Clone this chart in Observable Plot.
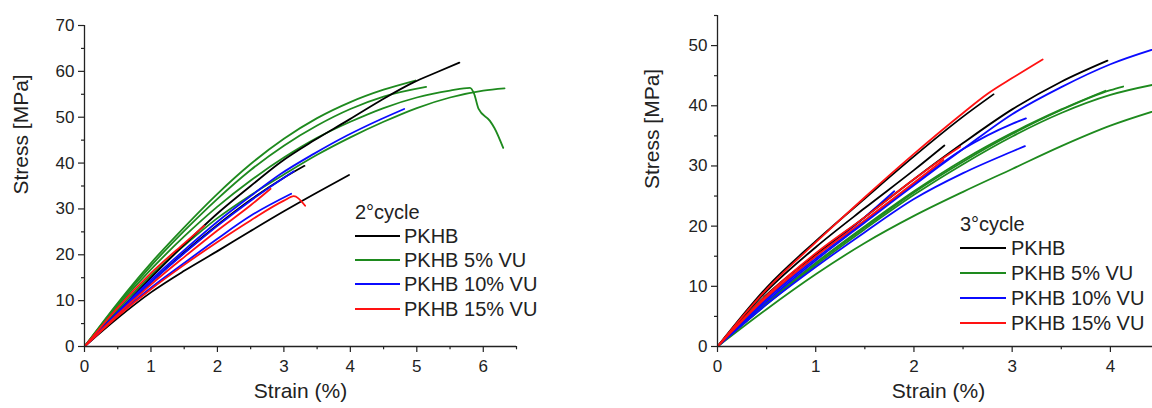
<!DOCTYPE html>
<html>
<head>
<meta charset="utf-8">
<script src="https://cdn.jsdelivr.net/npm/d3@7"></script>
<script src="https://cdn.jsdelivr.net/npm/@observablehq/plot@0.6"></script>
<style>
  html, body { margin: 0; padding: 0; background: #fff; overflow: hidden; }
  #wrap { position: relative; width: 1152px; height: 408px; overflow: hidden; font-family: "Liberation Sans", Arial, sans-serif; color: #222; }
  .panel { position: absolute; top: 0; }
  .legend { position: absolute; font-size: 20px; color: #222; }
  .legend .row { position: absolute; left: 0; height: 24px; line-height: 24px; display: flex; align-items: center; white-space: nowrap; }
  .legend .swatch { display: inline-block; height: 2.2px; margin-right: 5px; }
</style>
</head>
<body>
<div id="wrap"></div>
<script>
// ---------- series / categories ----------
const seriesNames = ["PKHB", "PKHB 5% VU", "PKHB 10% VU", "PKHB 15% VU"];
const seriesColors = ["#000000", "#1e8a1e", "#0b0bff", "#ff1212"];
const panelTitles = ["2°cycle", "3°cycle"];
const xLabel = "Strain (%)";
const yLabel = "Stress [MPa]";

// ---------- 2° cycle: strain (%) / stress (MPa) pairs ----------
const c2_pkhb_a = [[0,0],[0.5,7.5],[1,15],[1.5,22.2],[2,29],[2.5,35],[2.95,40.2],[3.45,44.9],[3.95,49.2],[4.45,53.6],[4.95,57.6],[5.3,59.8],[5.64,61.9]];
const c2_pkhb_b = [[0,0],[0.5,6.2],[1,11.8],[1.5,16.5],[2,20.8],[2.5,25.2],[3,29.5],[3.5,33.6],[3.98,37.4]];
const c2_pkhb_c = [[0,0],[0.5,7],[1,14],[1.5,20.5],[2,26.5],[2.5,32],[3,36.8],[3.31,39.4]];
const c2_5_a = [[0,0],[0.5,9.5],[1,18.2],[1.5,26],[2,33.3],[2.5,39.8],[3,45.3],[3.5,49.8],[4,53.3],[4.5,56],[4.98,58]];
const c2_5_b = [[0,0],[0.5,9.2],[1,17.6],[1.5,25.2],[2,32.2],[2.5,38.5],[3,43.8],[3.5,48.2],[4,51.8],[4.5,54.5],[5.14,56.6]];
const c2_5_c = [[0,0],[0.5,8.8],[1,16.8],[1.5,24],[2,30.5],[2.5,36.2],[3,41.2],[3.5,45.5],[4,49],[4.5,52],[5,54.3],[5.5,55.8],[5.8,56.4],[5.86,55.2],[5.93,51.8],[6.1,49.2],[6.17,47.6],[6.3,43.3]];
const c2_5_d = [[0,0],[0.5,8],[1,15.5],[1.5,22],[2,28],[2.5,33],[3,37.5],[3.5,41.8],[4,45.6],[4.5,49],[5,52],[5.5,54.3],[6,55.8],[6.32,56.3]];
const c2_10_a = [[0,0],[0.5,7.5],[1,14.5],[1.5,21],[2,27.2],[2.5,32.8],[2.95,37.6],[3.45,42],[3.95,46],[4.45,49.5],[4.81,51.8]];
const c2_10_b = [[0,0],[0.5,6.8],[1,12.8],[1.5,18.2],[2,23.5],[2.5,28.5],[3.11,33.3]];
const c2_10_c = [[0,0],[0.5,7.2],[1,14],[1.5,20.3],[2,26.3],[2.5,31.8],[3,36.8],[3.15,38.2]];
const c2_15_a = [[0,0],[0.5,8.5],[1,16],[1.5,22.5],[1.8,26.3]];
const c2_15_b = [[0,0],[0.5,6.6],[1,12.5],[1.5,17.8],[2,22.8],[2.5,27.5],[3,31.8],[3.15,32.8],[3.32,30.7]];
const c2_15_c = [[0,0],[0.5,7],[1,13.5],[1.5,19.5],[2,25.3],[2.5,30.8],[2.8,34.4]];

// ---------- 3° cycle ----------
const c3_pkhb_a = [[0,0],[0.5,9.8],[1,17.5],[1.5,24.6],[2,31.6],[2.5,38.2],[2.81,41.9]];
const c3_pkhb_b = [[0,0],[0.5,9.2],[1,16.5],[1.5,23],[2,29.3],[2.31,33.4]];
const c3_pkhb_c = [[0,0],[0.5,8.6],[1,15.3],[1.5,21.5],[2,27.8],[2.5,33.8],[3,39.4],[3.5,44],[3.97,47.5]];
const c3_5_a = [[0,0],[0.5,7.2],[1,13.8],[1.5,19.8],[2,25.6],[2.5,30.7],[3,35.3],[3.5,39.3],[4,42.6],[4.13,43.2]];
const c3_5_b = [[0,0],[0.5,7],[1,13.5],[1.5,19.5],[2,25.2],[2.5,30.3],[3,34.9],[3.5,38.8],[4,41.8],[4.5,43.7]];
const c3_5_c = [[0,0],[0.5,7.3],[1,13.9],[1.5,20],[2,25.8],[2.5,31],[3,35.5],[3.5,39.4],[3.95,42.5]];
const c3_5_d = [[0,0],[0.5,6.2],[1,12],[1.5,17.2],[2,21.7],[2.5,25.7],[3,29.5],[3.5,33.3],[4,36.7],[4.5,39.4]];
const c3_10_a = [[0,0],[0.5,7.5],[1,14.3],[1.5,20.6],[2,26.8],[2.5,32.8],[3,38.6],[3.5,43.1],[4,46.9],[4.5,49.7]];
const c3_10_b = [[0,0],[0.5,7.8],[1,14.6],[1.5,20.8],[2,27],[2.5,32.8],[3,37],[3.14,37.9]];
const c3_10_c = [[0,0],[0.5,7],[1,13.2],[1.5,19],[2,24.5],[2.5,28.8],[3,32.4],[3.13,33.3]];
const c3_10_d = [[0,0],[0.5,8],[1,15],[1.5,21.5],[1.8,25.8]];
const c3_15_a = [[0,0],[0.5,9.5],[1,17.3],[1.5,24.8],[2,32],[2.5,38.8],[2.75,42],[3,44.6],[3.31,47.7]];
const c3_15_b = [[0,0],[0.5,8.5],[1,15.5],[1.5,21.5],[2,27.8],[2.27,31],[2.47,33.2]];
const c3_15_c = [[0,0],[0.5,8.2],[1,15],[1.5,21],[2,27.2],[2.3,31]];

// specimen lists: [series index, curve]
const cycle2 = [[1,c2_5_a],[1,c2_5_b],[1,c2_5_c],[1,c2_5_d],[0,c2_pkhb_a],[0,c2_pkhb_b],[0,c2_pkhb_c],[2,c2_10_a],[2,c2_10_b],[2,c2_10_c],[3,c2_15_a],[3,c2_15_b],[3,c2_15_c]];
const cycle3 = [[1,c3_5_a],[1,c3_5_b],[1,c3_5_c],[1,c3_5_d],[2,c3_10_a],[2,c3_10_b],[2,c3_10_c],[2,c3_10_d],[0,c3_pkhb_a],[0,c3_pkhb_b],[0,c3_pkhb_c],[3,c3_15_a],[3,c3_15_b],[3,c3_15_c]];

// axis ticks
const x2Ticks = [0,1,2,3,4,5,6];
const x2Minor = [0.5,1.5,2.5,3.5,4.5,5.5,6.5];
const y2Ticks = [0,10,20,30,40,50,60,70];
const y2Minor = [5,15,25,35,45,55,65];
const x3Ticks = [0,1,2,3,4];
const x3Minor = [0.5,1.5,2.5,3.5,4.5];
const y3Ticks = [0,10,20,30,40,50];
const y3Minor = [5,15,25,35,45,55];

function toRows(list) {
  const rows = [];
  list.forEach(([s, curve], i) => {
    curve.forEach(([x, y]) => rows.push({id: i, series: seriesNames[s], x, y}));
  });
  return rows;
}

function panel(o) {
  return Plot.plot({
    width: o.width, height: 408,
    marginLeft: o.ml, marginRight: o.mr, marginTop: o.mt, marginBottom: o.mb,
    style: {fontFamily: '"Liberation Sans", Arial, sans-serif', color: "#222", background: "transparent", overflow: "visible"},
    x: {domain: o.xDomain},
    y: {domain: o.yDomain},
    color: {domain: seriesNames, range: seriesColors},
    marks: [
      Plot.line(toRows(o.list), {x: "x", y: "y", z: "id", stroke: "series", strokeWidth: 1.8, curve: "monotone-x", clip: true}),
      Plot.ruleX([o.xDomain[0]], {stroke: "#222", strokeWidth: 1.3}),
      Plot.ruleY([o.yDomain[0]], {stroke: "#222", strokeWidth: 1.3}),
      Plot.axisY(o.yTicks, {tickSize: 6, tickPadding: 4, fontSize: 17, label: null, strokeWidth: 1.2}),
      Plot.axisY(o.yMinor, {tickSize: 3, tickFormat: () => "", label: null, strokeWidth: 1.2}),
      Plot.axisX(o.xTicks, {tickSize: 6, tickPadding: 7, fontSize: 17, label: null, strokeWidth: 1.2}),
      Plot.axisX(o.xMinor, {tickSize: 3.3, tickFormat: () => "", label: null, strokeWidth: 1.2}),
      Plot.text([yLabel], {text: d => d, frameAnchor: "left", rotate: -90, dx: o.ydx, dy: o.ydy, fontSize: 21, fill: "#222"}),
      Plot.text([xLabel], {text: d => d, frameAnchor: "bottom", dy: 51, fontSize: 21, fill: "#222"})
    ]
  });
}

const wrap = document.getElementById("wrap");

const p2 = panel({list: cycle2, width: 576, ml: 84, mr: 60, mt: 25, mb: 62,
  xDomain: [0, 6.5], yDomain: [0, 70], xTicks: x2Ticks, xMinor: x2Minor, yTicks: y2Ticks, yMinor: y2Minor, ydx: -63, ydy: 8.5});
p2.classList.add("panel"); p2.style.left = "0px";
wrap.appendChild(p2);

const p3 = panel({list: cycle3, width: 583, ml: 141, mr: 0, mt: 15, mb: 62,
  xDomain: [0, 4.5], yDomain: [0, 55], xTicks: x3Ticks, xMinor: x3Minor, yTicks: y3Ticks, yMinor: y3Minor, ydx: -65.5, ydy: 8});
p3.classList.add("panel"); p3.style.left = "576px";
wrap.appendChild(p3);

function legend(title, left, titleY, rowYs, lineW, gap) {
  const lg = document.createElement("div");
  lg.className = "legend";
  lg.style.left = left + "px";
  lg.style.top = "0px";
  const t = document.createElement("div");
  t.className = "row";
  t.style.top = (titleY - 12) + "px";
  t.textContent = title;
  lg.appendChild(t);
  seriesNames.forEach((name, i) => {
    const r = document.createElement("div");
    r.className = "row";
    r.style.top = (rowYs[i] - 12) + "px";
    const sw = document.createElement("span");
    sw.className = "swatch";
    sw.style.width = lineW + "px";
    sw.style.marginRight = gap + "px";
    sw.style.background = seriesColors[i];
    r.appendChild(sw);
    r.appendChild(document.createTextNode(name));
    lg.appendChild(r);
  });
  wrap.appendChild(lg);
}
legend(panelTitles[0], 355, 212, [236, 260, 284.3, 309], 45, 4);
legend(panelTitles[1], 960, 224, [248.3, 273.3, 298.3, 322.7], 46, 5);
</script>
</body>
</html>
